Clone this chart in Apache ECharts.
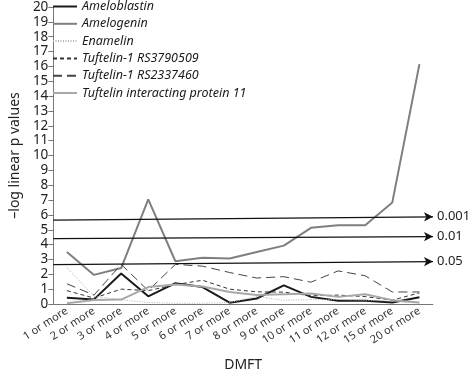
<!DOCTYPE html>
<html>
<head>
<meta charset="utf-8">
<script src="https://cdn.jsdelivr.net/npm/echarts@6/dist/echarts.min.js"></script>
<style>
  html, body { margin: 0; padding: 0; background: #fff; }
  #chart { width: 472px; height: 377px; }
</style>
</head>
<body>
<div id="chart"></div>
<script>
// DMFT thresholds on x
var categories = ['1 or more', '2 or more', '3 or more', '4 or more', '5 or more', '6 or more', '7 or more',
  '8 or more', '9 or more', '10 or more', '11 or more', '12 or more', '15 or more', '20 or more']

// -log linear p values
var ameloblastin = [0.42, 0.31, 2.05, 0.52, 1.4, 1.14, 0.09, 0.37, 1.25, 0.48, 0.22, 0.22, 0.1, 0.45]
var amelogenin = [3.5, 1.96, 2.42, 7.05, 2.88, 3.12, 3.06, 3.5, 3.93, 5.13, 5.3, 5.3, 6.84, 16.15]
var enamelin = [2.45, 0.52, 0.28, 0.1, 0.05, 0.05, 0.1, 0.5, 0.25, 0.3, 0.3, 0.25, 0.2, 0.05]
var tuft3790509 = [0.9, 0.4, 1.0, 0.9, 1.3, 1.6, 1.0, 0.82, 0.8, 0.55, 0.6, 0.5, 0.26, 0.75]
var tuft2337460 = [1.36, 0.6, 2.67, 0.9, 2.67, 2.55, 2.12, 1.75, 1.84, 1.47, 2.23, 1.9, 0.81, 0.81]
var tip11 = [0.05, 0.27, 0.3, 1.14, 1.31, 1.18, 0.81, 0.6, 0.66, 0.7, 0.48, 0.65, 0.26, 0.1]

// significance arrows: label, value at left, value at right
var pLabels = ['0.001', '0.01', '0.05']
var pStart = [5.65, 4.4, 2.65]
var pEnd = [5.87, 4.54, 2.86]

var font = 'Noto Sans'

function lineSeries(name, data, color, width, type) {
  return {
    name: name, type: 'line', data: data, symbol: 'none',
    lineStyle: { color: color, width: width, type: type },
    itemStyle: { color: color },
    z: 3
  }
}

var series = [
  lineSeries('Ameloblastin', ameloblastin, '#1a1a1a', 2, 'solid'),
  lineSeries('Amelogenin', amelogenin, '#7f7f7f', 2, 'solid'),
  lineSeries('Enamelin', enamelin, '#b0b0b0', 1, [1, 1.5]),
  lineSeries('Tuftelin-1 RS3790509', tuft3790509, '#333', 1, [4, 3]),
  lineSeries('Tuftelin-1 RS2337460', tuft2337460, '#444', 1, [9, 5]),
  lineSeries('Tuftelin interacting protein 11', tip11, '#a8a8a8', 2, 'solid'),
  {
    type: 'line', xAxisIndex: 1, data: [], silent: true,
    markLine: {
      silent: true,
      symbol: ['none', 'arrow'],
      symbolSize: [7, 9],
      lineStyle: { color: '#111', width: 1.3, type: 'solid' },
      label: { position: 'end', fontFamily: font, fontSize: 13, color: '#222', distance: 4 },
      data: pLabels.map(function (p, i) {
        return [
          { coord: [0, pStart[i]], name: p, label: { formatter: p } },
          { coord: [14, pEnd[i]] }
        ]
      })
    }
  }
]

var chart = echarts.init(document.getElementById('chart'))
chart.setOption({
  animation: false,
  grid: { left: 46, right: 39, top: 7, bottom: 64 },
  legend: {
    orient: 'vertical', left: 52, top: 0, padding: 0,
    itemWidth: 24, itemHeight: 14, itemGap: 4.3,
    itemStyle: { opacity: 0 },
    data: ['Ameloblastin', 'Amelogenin', 'Enamelin', 'Tuftelin-1 RS3790509', 'Tuftelin-1 RS2337460', 'Tuftelin interacting protein 11'],
    textStyle: { fontFamily: font, fontStyle: 'italic', fontSize: 12.5, color: '#1a1a1a' }
  },
  xAxis: [{
    type: 'category', data: categories, boundaryGap: true,
    axisLine: { lineStyle: { color: '#777' } },
    axisTick: { alignWithLabel: false, length: 5, lineStyle: { color: '#777' } },
    axisLabel: { rotate: 33, fontFamily: font, fontSize: 11, color: '#333', margin: 6, interval: 0 },
    name: 'DMFT', nameLocation: 'middle', nameGap: 54,
    nameTextStyle: { fontFamily: font, fontSize: 14, color: '#222' }
  }, {
    type: 'value', min: 0, max: 14, show: false
  }],
  yAxis: {
    type: 'value', min: 0, max: 20, interval: 1,
    splitLine: { show: false },
    axisLine: { show: true, lineStyle: { color: '#777' } },
    axisTick: { show: true, length: 5, lineStyle: { color: '#777' } },
    axisLabel: { fontFamily: font, fontSize: 13.5, color: '#222', margin: 5 },
    name: '\u2013log linear p values', nameLocation: 'middle', nameGap: 28,
    nameTextStyle: { fontFamily: font, fontSize: 14, color: '#222' }
  },
  series: series
})
</script>
</body>
</html>
